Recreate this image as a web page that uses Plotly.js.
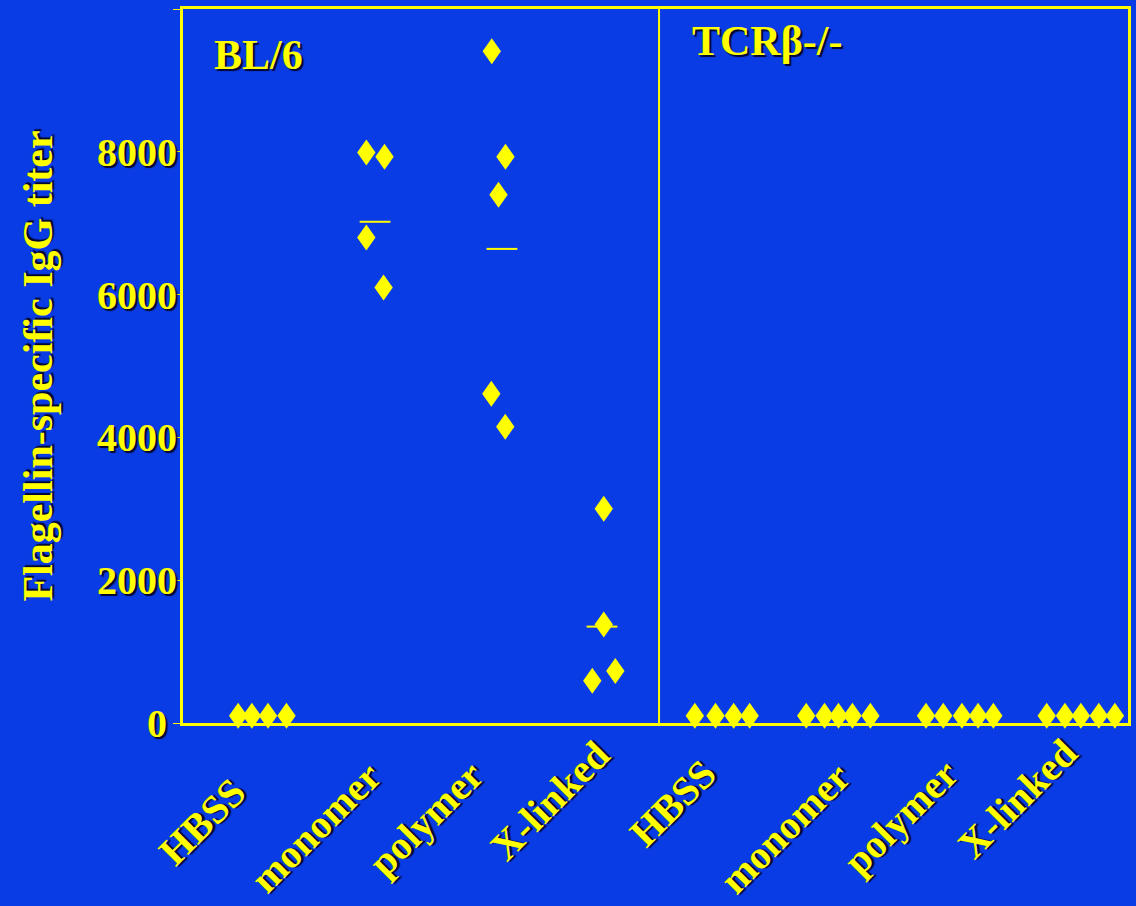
<!DOCTYPE html>
<html>
<head>
<meta charset="utf-8">
<script src="https://cdn.plot.ly/plotly-3.0.1.min.js"></script>
<style>
  html, body { margin: 0; padding: 0; background: rgb(10,60,230); }
  #chart { width: 1136px; height: 906px; }
</style>
</head>
<body>
<div id="chart"></div>
<script>
// ---------- data ----------
const categories = ['HBSS', 'monomer', 'polymer', 'X-linked'];
const strains = ['BL/6', 'TCRβ-/-'];

const bl6HBSS    = [100, 100, 100, 100];
const bl6Monomer = [7990, 7930, 6800, 6100];
const bl6Polymer = [9410, 7930, 7400, 4610, 4150];
const bl6Xlinked = [3000, 1380, 590, 730];

const tcrHBSS    = [100, 100, 100, 100];
const tcrMonomer = [100, 100, 100, 100, 100];
const tcrPolymer = [100, 100, 100, 100, 100];
const tcrXlinked = [100, 100, 100, 100, 100];

const bl6Means = [null, 7020, 6640, 1350];

const yTickVals = [0, 2000, 4000, 6000, 8000, 10000];
const yTickText = ['0\u00a0', '2000', '4000', '6000', '8000', ''];
const yTitle = 'Flagellin-specific IgG titer';

// ---------- layout helpers (positions, not data) ----------
const groups = [bl6HBSS, bl6Monomer, bl6Polymer, bl6Xlinked,
                tcrHBSS, tcrMonomer, tcrPolymer, tcrXlinked];
const jitter = [
  [-0.033, 0.083, 0.22, 0.376],
  [0.052, 0.206, 0.052, 0.198],
  [0.114, 0.23, 0.171, 0.11, 0.228],
  [0.062, 0.062, -0.035, 0.16],
  [-0.167, 0.008, 0.162, 0.297],
  [-0.224, -0.069, 0.049, 0.167, 0.319],
  [-0.21, -0.064, 0.094, 0.231, 0.36],
  [-0.188, -0.034, 0.101, 0.253, 0.389]
];
const meanOffsets = [0, 0.126, 0.2, 0.047];

const YELLOW = '#ffff00';
const BG = 'rgb(10,60,230)';
const FONT = '"Liberation Serif", "Times New Roman", serif';
const SHADOW = '2px 2px 1px rgba(0,0,25,0.9)';
const font = (size) => ({family: FONT, size: size, color: YELLOW, weight: 'bold', shadow: SHADOW});

const px = [], py = [];
groups.forEach((vals, gi) => {
  vals.forEach((v, k) => { px.push(gi + jitter[gi][k]); py.push(v); });
});
const mx = [], my = [];
bl6Means.forEach((v, gi) => { if (v !== null) { mx.push(gi + meanOffsets[gi]); my.push(v); } });

const traces = [
  {
    type: 'scatter', mode: 'markers', x: px, y: py,
    marker: {symbol: 'diamond', size: 16, color: YELLOW, line: {width: 0}},
    cliponaxis: false, hoverinfo: 'y', showlegend: false
  },
  {
    type: 'scatter', mode: 'markers', x: mx, y: my,
    marker: {symbol: 'line-ew', size: 22, color: YELLOW, line: {width: 2, color: YELLOW}},
    cliponaxis: false, hoverinfo: 'y', showlegend: false
  }
];

// x tick labels (rotated) as annotations at their picture positions
const labelPos = [
  [-0.335, -0.138], [0.625, -0.147], [1.56, -0.134], [2.605, -0.108],
  [3.645, -0.113], [4.595, -0.148], [5.575, -0.133], [6.565, -0.106]
];
const annotations = [];
for (let i = 0; i < 8; i++) {
  annotations.push({
    text: categories[i % 4], x: labelPos[i][0], y: labelPos[i][1],
    xref: 'x', yref: 'paper', textangle: -45, showarrow: false,
    xanchor: 'center', yanchor: 'middle', font: font(40)
  });
}
annotations.push({text: strains[0], x: 0.031, y: 0.936, xref: 'paper', yref: 'paper',
  xanchor: 'left', yanchor: 'middle', showarrow: false, font: font(42)});
annotations.push({text: strains[1], x: 0.536, y: 0.9555, xref: 'paper', yref: 'paper',
  xanchor: 'left', yanchor: 'middle', showarrow: false, font: font(42)});

const layout = {
  width: 1136, height: 906,
  margin: {l: 183, r: 7.5, t: 8.5, b: 182.5, pad: 0},
  paper_bgcolor: BG, plot_bgcolor: BG,
  showlegend: false,
  xaxis: {
    range: [-0.5, 7.5], showticklabels: false, ticks: '', showgrid: false, zeroline: false,
    showline: true, mirror: true, linewidth: 3, linecolor: YELLOW, layer: 'below traces',
    fixedrange: true
  },
  yaxis: {
    range: [0, 10000], tickvals: yTickVals, ticktext: yTickText,
    ticks: 'outside', ticklen: 7, tickwidth: 1, tickcolor: YELLOW,
    ticklabelstandoff: -12,
    tickfont: font(40), showgrid: false, zeroline: false,
    showline: true, mirror: true, linewidth: 3, linecolor: YELLOW, layer: 'below traces',
    title: {text: yTitle, font: font(42), standoff: 32},
    automargin: false, fixedrange: true
  },
  shapes: [{
    type: 'line', xref: 'x', yref: 'paper', x0: 3.53, x1: 3.53, y0: 0, y1: 1,
    line: {color: YELLOW, width: 2}, layer: 'below'
  }],
  annotations: annotations
};

Plotly.newPlot('chart', traces, layout, {displayModeBar: false, staticPlot: true}).then(() => {
  // make the diamonds taller than wide, as in the picture
  const tr = document.querySelectorAll('#chart .scatterlayer .trace');
  if (tr.length) {
    tr[0].querySelectorAll('path.point').forEach(p => p.setAttribute('d', 'M0,-13L9.2,0L0,13L-9.2,0Z'));
  }
});
</script>
</body>
</html>
